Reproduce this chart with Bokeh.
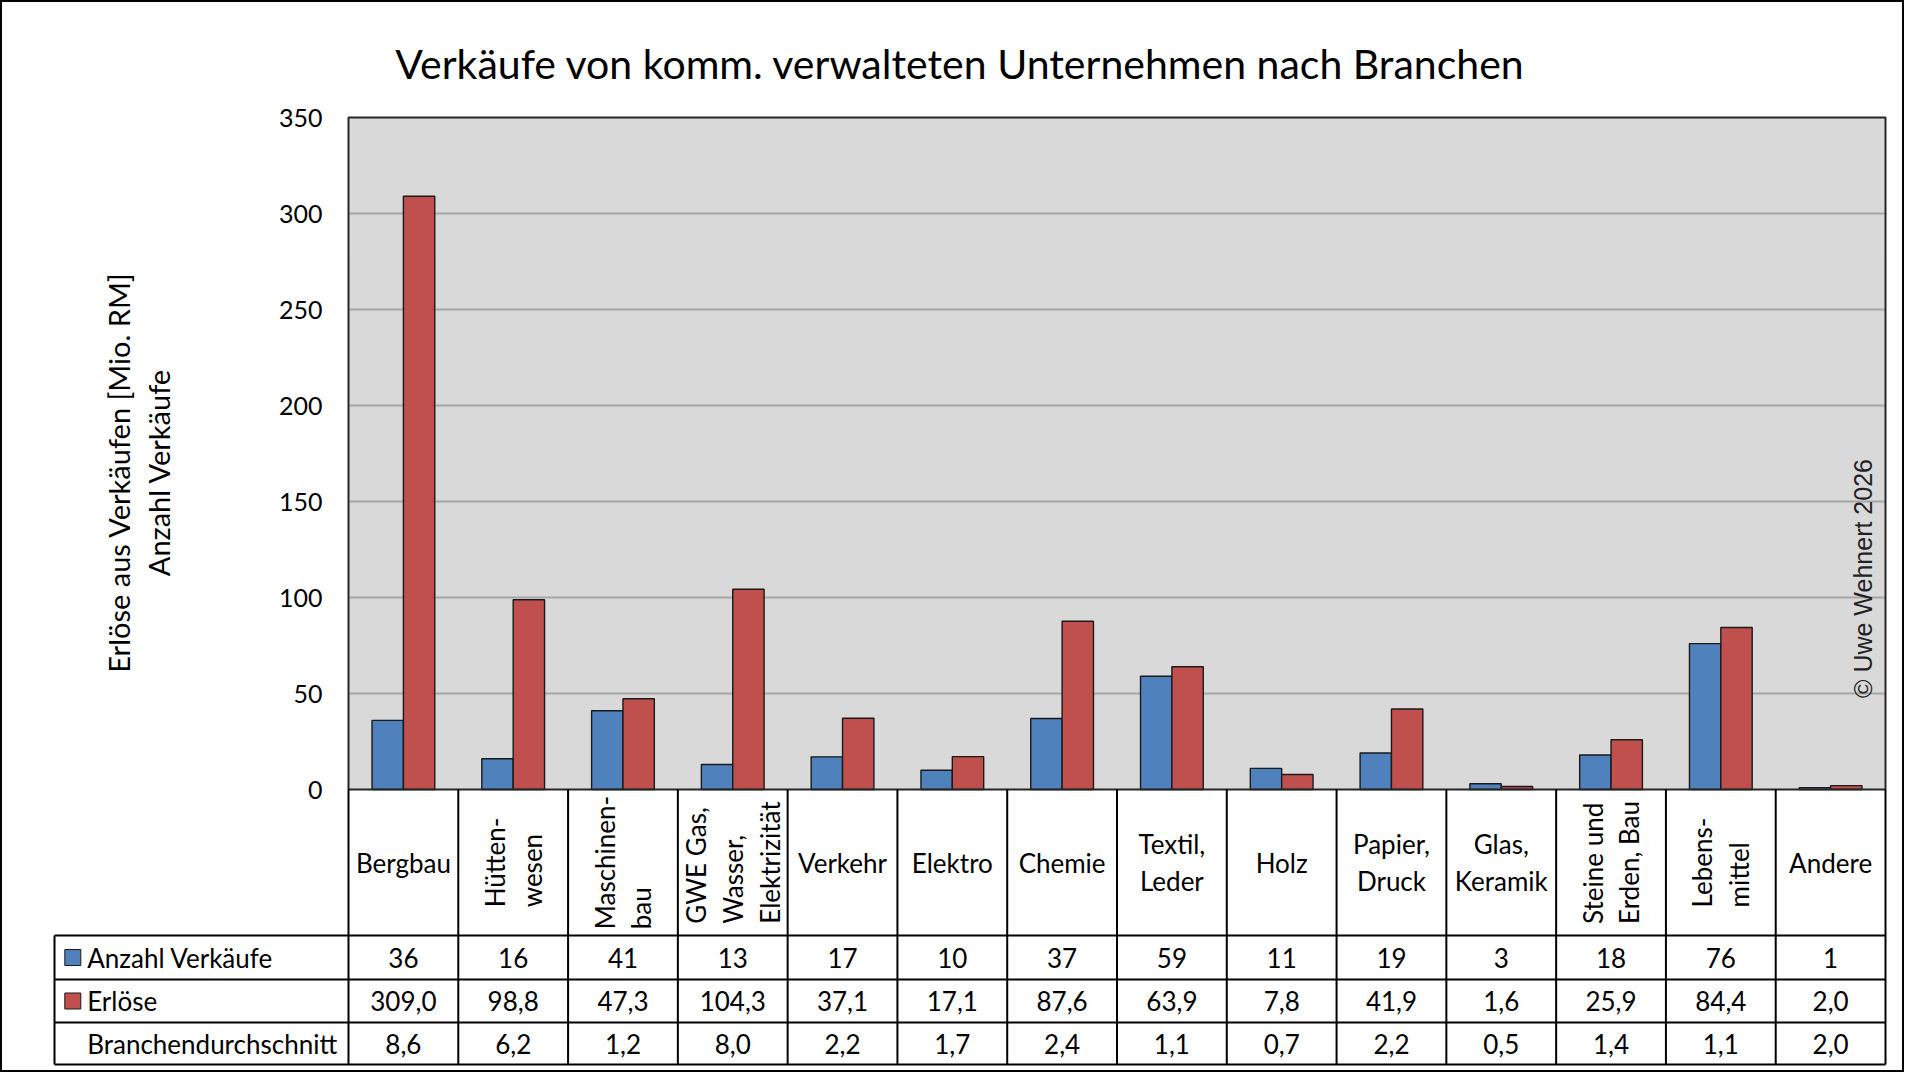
import math
from bokeh.plotting import figure
from bokeh.models import Range1d, LinearAxis, FixedTicker
from bokeh.core.properties import value
from bokeh.embed import file_html
from bokeh.resources import INLINE

# ---------------- data ----------------
categories = ["Bergbau", "Hütten-\nwesen", "Maschinen-\nbau", "GWE Gas,\nWasser,\nElektrizität",
              "Verkehr", "Elektro", "Chemie", "Textil,\nLeder", "Holz", "Papier,\nDruck",
              "Glas,\nKeramik", "Steine und\nErden, Bau", "Lebens-\nmittel", "Andere"]
rotated = [False, True, True, True, False, False, False, False, False, False, False, True, True, False]
anzahl = [36, 16, 41, 13, 17, 10, 37, 59, 11, 19, 3, 18, 76, 1]
erloese = [309.0, 98.8, 47.3, 104.3, 37.1, 17.1, 87.6, 63.9, 7.8, 41.9, 1.6, 25.9, 84.4, 2.0]
durchschnitt = [8.6, 6.2, 1.2, 8.0, 2.2, 1.7, 2.4, 1.1, 0.7, 2.2, 0.5, 1.4, 1.1, 2.0]
y_ticks = [0, 50, 100, 150, 200, 250, 300, 350]
row_labels = ["Anzahl Verkäufe", "Erlöse", "Branchendurchschnitt"]
title_text = "Verkäufe von komm. verwalteten Unternehmen nach Branchen"
y_title = "Erlöse aus Verkäufen [Mio. RM]\nAnzahl Verkäufe"
copyright_text = "© Uwe Wehnert 2026"

# ---------------- style / layout ----------------
BLUE = "#4F81BD"
RED = "#C0504D"
FONT = "Lato"
FS = "26px"

FIG_W, FIG_H = 1904, 1072
OFF = 0                      # picture origin
PL, PR, PT, PB = 348, 1885, 117, 789   # plot area in px
TL = 54                      # table left edge (px)
ROWS = [789, 935, 979, 1022, 1064]     # table row boundaries (px)

n = len(categories)
col_w = (PR - PL) / n
ymax = y_ticks[-1]
ys = (PB - PT) / ymax


def ux(px):
    return (px - PL) / col_w


def uy(py):
    return (PB - py) / ys


p = figure(width=FIG_W, height=FIG_H,
           x_range=Range1d(ux(OFF), ux(OFF + FIG_W)),
           y_range=Range1d(uy(OFF + FIG_H), uy(OFF)),
           x_axis_type=None, y_axis_type=None,
           output_backend="svg", toolbar_location=None, min_border=0)
p.background_fill_color = "white"
p.border_fill_color = "white"
p.outline_line_color = "black"
p.outline_line_width = 3

# plot area background
p.quad(left=[0], right=[n], bottom=[0], top=[ymax], fill_color="#D9D9D9", line_color=None)
# grid lines
inner = y_ticks[1:-1]
p.segment(x0=[0] * len(inner), x1=[n] * len(inner), y0=inner, y1=inner,
          line_color="#A6A6A6", line_width=2)

# bars
bw = 1 / 3.5
xc = [i + 0.5 for i in range(n)]
p.vbar(x=[x - bw / 2 for x in xc], top=anzahl, width=bw, fill_color=BLUE,
       line_color="#1a1a1a", line_width=1.4)
p.vbar(x=[x + bw / 2 for x in xc], top=erloese, width=bw, fill_color=RED,
       line_color="#1a1a1a", line_width=1.4)

# plot border
p.quad(left=[0], right=[n], bottom=[0], top=[ymax], fill_color=None,
       line_color="#262626", line_width=2)

# y axis at the plot area's left edge
ax = LinearAxis(fixed_location=0, ticker=FixedTicker(ticks=y_ticks))
ax.axis_line_color = None
ax.major_tick_line_color = None
ax.minor_tick_line_color = None
ax.major_tick_out = 0
ax.major_tick_in = 0
ax.major_label_standoff = 26
ax.major_label_text_font = FONT
ax.major_label_text_font_size = "25px"
ax.major_label_text_color = "black"
p.add_layout(ax, "left")

# ---------------- table ----------------
# vertical lines of category columns
p.segment(x0=list(range(n + 1)), x1=list(range(n + 1)),
          y0=[uy(ROWS[0])] * (n + 1), y1=[uy(ROWS[-1])] * (n + 1),
          line_color="black", line_width=2)
# legend column left line
p.segment(x0=[ux(TL)], x1=[ux(TL)], y0=[uy(ROWS[1])], y1=[uy(ROWS[-1])],
          line_color="black", line_width=2)
# horizontal lines
p.segment(x0=[ux(TL)] * 4, x1=[n] * 4, y0=[uy(r) for r in ROWS[1:]], y1=[uy(r) for r in ROWS[1:]],
          line_color="black", line_width=2)

cat_y = uy((ROWS[0] + ROWS[1]) / 2)
hx = [xc[i] for i in range(n) if not rotated[i]]
ht = [categories[i] for i in range(n) if not rotated[i]]
rx = [xc[i] for i in range(n) if rotated[i]]
rt = [categories[i] for i in range(n) if rotated[i]]
p.text(x=hx, y=[cat_y] * len(hx), text=ht, text_align="center", text_baseline="middle",
       anchor=value("center"), text_font=value(FONT), text_font_size=FS, text_color="black",
       text_line_height=1.15)
p.text(x=rx, y=[cat_y] * len(rx), text=rt, angle=math.pi / 2, text_align="left",
       text_baseline="middle", anchor=value("center"), text_font=value(FONT),
       text_font_size=FS, text_color="black", text_line_height=1.15)


def fmt(v):
    return f"{v:.1f}".replace(".", ",")


row_vals = [[str(v) for v in anzahl], [fmt(v) for v in erloese], [fmt(v) for v in durchschnitt]]
for r in range(3):
    yc = uy((ROWS[r + 1] + ROWS[r + 2]) / 2)
    p.text(x=xc, y=[yc] * n, text=row_vals[r], text_align="center", text_baseline="middle",
           text_font=value(FONT), text_font_size=FS, text_color="black")

row_y = [uy((ROWS[r + 1] + ROWS[r + 2]) / 2) for r in range(3)]
p.text(x=[ux(86.7)] * 3, y=row_y, text=row_labels, text_align="left", text_baseline="middle",
       text_font=value(FONT), text_font_size=FS, text_color="black")
p.scatter(x=[ux(72.3)] * 2, y=row_y[:2], marker="square", size=16,
          fill_color=[BLUE, RED], line_color="#1a1a1a", line_width=1)

# ---------------- texts ----------------
p.text(x=[ux(960)], y=[uy(63)], text=[title_text], text_align="center", text_baseline="alphabetic",
       text_font=value(FONT), text_font_size="41px", text_color="black")
p.text(x=[ux(138)], y=[uy(472)], text=[y_title], angle=math.pi / 2, text_align="center",
       text_baseline="middle", anchor=value("center"), text_font=value(FONT),
       text_font_size="29px", text_color="black", text_line_height=1.12)
p.text(x=[ux(1862)], y=[uy(578)], text=[copyright_text], angle=math.pi / 2, text_align="center",
       text_baseline="middle", text_font=value("Liberation Sans"), text_font_size="25px",
       text_color="#222222")

open("out.html", "w").write(file_html(p, INLINE))
